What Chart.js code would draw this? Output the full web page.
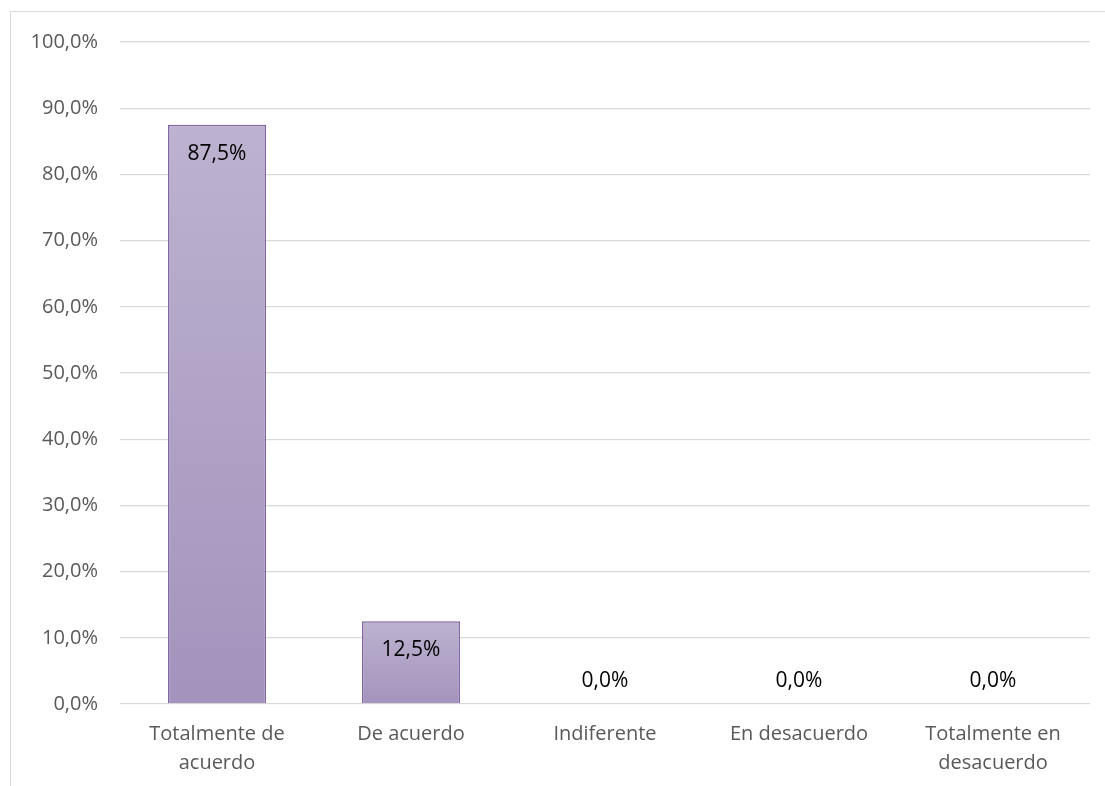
<!DOCTYPE html>
<html>
<head>
<meta charset="utf-8">
<script src="https://cdn.jsdelivr.net/npm/chart.js@4.4.0/dist/chart.umd.min.js"></script>
<style>
  html, body { margin: 0; padding: 0; background: #fff; }
  #frame {
    position: absolute; left: 10px; top: 11px; width: 1095px; height: 775px;
    border-left: 1px solid #d9d9d9; border-top: 1px solid #d9d9d9;
  }
  #wrap { position: absolute; left: 0; top: 0; width: 1105px; height: 786px; }
</style>
</head>
<body>
<div id="frame"></div>
<div id="wrap"><canvas id="chart"></canvas></div>
<script>
const categories = [['Totalmente de', 'acuerdo'], 'De acuerdo', 'Indiferente', 'En desacuerdo', ['Totalmente en', 'desacuerdo']];
const values = [87.5, 12.5, 0, 0, 0];
const yTicks = [0, 10, 20, 30, 40, 50, 60, 70, 80, 90, 100];

function pct(v) {
    return v.toFixed(1).replace('.', ',') + '%';
}

// Degradado por barra (claro arriba, oscuro abajo)
function barGradient(context) {
    const chart = context.chart;
    const y = chart.scales.y;
    if (!chart.chartArea || !y) return '#b0a1c5';
    const v = context.raw || 0;
    const top = y.getPixelForValue(v);
    const base = y.getPixelForValue(0);
    if (base - top < 1) return '#b0a1c5';
    const g = chart.ctx.createLinearGradient(0, top, 0, base);
    g.addColorStop(0, '#bdb2cf');
    g.addColorStop(1, '#a393bd');
    return g;
}

const labelPlugin = {
    id: 'barLabels',
    afterDatasetsDraw(chart) {
        const ctx = chart.ctx;
        const meta = chart.getDatasetMeta(0);
        ctx.save();
        ctx.font = '21px "Open Sans", sans-serif';
        ctx.fillStyle = '#000';
        ctx.textAlign = 'center';
        ctx.textBaseline = 'middle';
        meta.data.forEach((bar, i) => {
            const v = values[i];
            const y = v > 0 ? bar.y + 29 : bar.base - 23;
            ctx.fillText(pct(v), bar.x, y);
        });
        ctx.restore();
    }
};

new Chart(document.getElementById('chart'), {
    type: 'bar',
    data: {
        labels: categories,
        datasets: [{
            data: values,
            backgroundColor: barGradient,
            borderColor: '#8064a2',
            borderWidth: 1.5,
            borderSkipped: 'bottom',
            categoryPercentage: 1,
            barPercentage: 0.505
        }]
    },
    options: {
        responsive: true,
        maintainAspectRatio: false,
        animation: false,
        layout: { padding: { left: 18, right: 15, top: 42, bottom: 0 } },
        plugins: {
            legend: { display: false },
            tooltip: { enabled: false }
        },
        scales: {
            y: {
                min: 0,
                max: 100,
                afterBuildTicks(axis) {
                    axis.ticks = yTicks.map(v => ({ value: v }));
                },
                afterFit(axis) { axis.width = 102; },
                ticks: {
                    color: '#595959',
                    font: { family: '"Open Sans", sans-serif', size: 20 },
                    padding: 22,
                    callback: v => pct(v)
                },
                grid: { color: '#d9d9d9', lineWidth: 1.3, drawTicks: false },
                border: { display: false }
            },
            x: {
                ticks: {
                    color: '#595959',
                    font: { family: '"Open Sans", sans-serif', size: 20, lineHeight: 1.45 },
                    padding: 8,
                    maxRotation: 0,
                    autoSkip: false
                },
                grid: { display: false },
                border: { display: false }
            }
        }
    },
    plugins: [labelPlugin]
});
</script>
</body>
</html>
